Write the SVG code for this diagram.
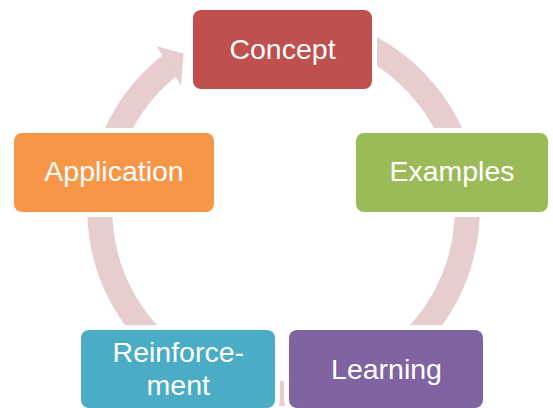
<svg xmlns="http://www.w3.org/2000/svg" width="553" height="408" viewBox="0 0 553 408">
<style>
.box{stroke:#FFFFFF;stroke-width:10;paint-order:stroke}
.lbl{font-family:"Liberation Sans","Arial",sans-serif;font-size:28.5px;fill:#FFFFFF;text-anchor:middle}
.ring{fill:none;stroke:#E7CDCE;stroke-width:25}
</style>
<rect width="553" height="408" fill="#FFFFFF"/>
<g id="connectors">
<path class="ring" d="M 267.49 26.7 A 183.7 183.7 0 1 1 172.95 63.0"/>
<polygon points="156.6,46.3 183.6,53.4 180.9,85.2" fill="#E7CDCE"/>
</g>
<g id="concept">
<rect class="box" x="193" y="10" width="179" height="79" rx="8" fill="#C0504D"/>
<text class="lbl" x="282.5" y="58.5">Concept</text>
</g>
<g id="examples">
<rect class="box" x="356" y="133" width="192" height="79" rx="8" fill="#9BBB59"/>
<text class="lbl" x="452" y="181">Examples</text>
</g>
<g id="learning">
<rect class="box" x="289" y="330" width="194" height="78" rx="8" fill="#8064A2"/>
<text class="lbl" x="386.5" y="378.5">Learning</text>
</g>
<g id="reinforcement">
<rect class="box" x="81" y="330" width="194" height="78" rx="8" fill="#4BACC6"/>
<text class="lbl" x="178.3" y="361.7">Reinforce-</text>
<text class="lbl" x="178.3" y="395">ment</text>
</g>
<g id="application">
<rect class="box" x="14" y="133" width="200" height="79" rx="8" fill="#F79646"/>
<text class="lbl" x="114" y="181">Application</text>
</g>
</svg>
